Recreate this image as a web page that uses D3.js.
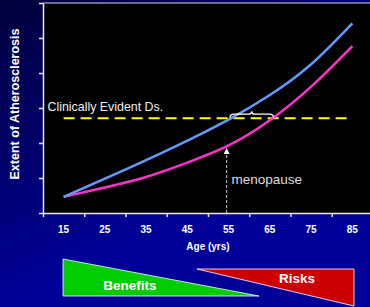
<!DOCTYPE html>
<html>
<head>
<meta charset="utf-8">
<script src="https://cdn.jsdelivr.net/npm/d3@7"></script>
<style>
  html, body { margin: 0; padding: 0; background: #000099; overflow: hidden; }
  text { font-family: "Liberation Sans", Arial, sans-serif; }
</style>
</head>
<body>
<div id="chart"></div>
<script>
// Extent of atherosclerosis by age - men vs women

const ages = [15, 25, 35, 45, 55, 65, 75, 85];
const menValues = [0.46, 0.98, 1.51, 2.07, 2.67, 3.37, 4.25, 5.42];
const womenValues = [0.46, 0.73, 1.03, 1.44, 1.93, 2.65, 3.61, 4.77];
const ageTickLabels = ["15", "25", "35", "45", "55", "65", "75", "85"];
const ageBoundaries = [10, 20, 30, 40, 50, 60, 70, 80];
const yTicks = [0, 1, 2, 3, 4, 5, 6];
const clinicalThreshold = 2.71;
const menopauseAge = 55;

const W = 370, H = 307;
const margin = { top: 3, right: -3, bottom: 94, left: 43 };

const svg = d3.select("#chart")
  .append("svg")
  .attr("width", W)
  .attr("height", H);

// background gradient
const defs = svg.append("defs");
const grad = defs.append("linearGradient")
  .attr("id", "bg")
  .attr("x1", "0").attr("y1", "0")
  .attr("x2", "0.45").attr("y2", "0.75");
grad.append("stop").attr("offset", "0").attr("stop-color", "#00003a");
grad.append("stop").attr("offset", "1").attr("stop-color", "#000099");
svg.append("rect").attr("width", W).attr("height", H).attr("fill", "url(#bg)");

const x = d3.scaleLinear().domain([10, 90]).range([margin.left, W - margin.right]);
const y = d3.scaleLinear().domain([0, 6]).range([H - margin.bottom, margin.top]);

// plot area
svg.append("rect")
  .attr("x", x(10)).attr("y", y(6))
  .attr("width", x(90) - x(10)).attr("height", y(0) - y(6))
  .attr("fill", "#000");

svg.append("line")
  .attr("x1", x(10)).attr("x2", x(90))
  .attr("y1", y(6)).attr("y2", y(6))
  .attr("stroke", "#d8d8e8").attr("stroke-width", 1.2);

// axes
const yAxis = d3.axisLeft(y).tickValues(yTicks).tickSize(4).tickSizeOuter(0).tickFormat("");
const xAxis = d3.axisBottom(x).tickValues(ageBoundaries).tickSize(4).tickSizeOuter(0).tickFormat("");

const gy = svg.append("g").attr("transform", `translate(${x(10)},0)`).call(yAxis);
const gx = svg.append("g").attr("transform", `translate(0,${y(0)})`).call(xAxis);
[gy, gx].forEach(g => {
  g.selectAll("path, line").attr("stroke", "#e8e8e8").attr("stroke-width", 1.5);
});

svg.selectAll(".age-label")
  .data(ageTickLabels)
  .enter()
  .append("text")
  .attr("class", "age-label")
  .attr("x", d => x(+d))
  .attr("y", 233)
  .attr("text-anchor", "middle")
  .attr("font-size", "10px")
  .attr("font-weight", "bold")
  .attr("fill", "#fff")
  .text(d => d);

svg.append("text")
  .attr("x", (x(10) + x(90)) / 2)
  .attr("y", 250)
  .attr("text-anchor", "middle")
  .attr("font-size", "10px")
  .attr("font-weight", "bold")
  .attr("fill", "#fff")
  .text("Age (yrs)");

svg.append("text")
  .attr("transform", "translate(19,104) rotate(-90)")
  .attr("text-anchor", "middle")
  .attr("font-size", "12.5px")
  .attr("font-weight", "bold")
  .attr("fill", "#fff")
  .text("Extent of Atherosclerosis");

// clinical threshold
svg.append("line")
  .attr("x1", x(15)).attr("x2", x(85))
  .attr("y1", y(clinicalThreshold)).attr("y2", y(clinicalThreshold))
  .attr("stroke", "#ffff00").attr("stroke-width", 2)
  .attr("stroke-dasharray", "11,6");

svg.append("text")
  .attr("x", 47.5)
  .attr("y", 111)
  .attr("font-size", "12.4px")
  .attr("fill", "#eee")
  .text("Clinically Evident Ds.");

// curves
const line = d3.line()
  .x(d => x(d[0]))
  .y(d => y(d[1]))
  .curve(d3.curveNatural);

const men = ages.map((a, i) => [a, menValues[i]]);
const women = ages.map((a, i) => [a, womenValues[i]]);

svg.append("path").datum(women)
  .attr("d", line).attr("fill", "none")
  .attr("stroke", "#ff33cc").attr("stroke-width", 2.5);

svg.append("path").datum(men)
  .attr("d", line).attr("fill", "none")
  .attr("stroke", "#6699ff").attr("stroke-width", 2.5);

// where a series crosses the threshold (linear between points)
function crossing(vals) {
  for (let i = 1; i < vals.length; i++) {
    if (vals[i] >= clinicalThreshold) {
      const t = (clinicalThreshold - vals[i - 1]) / (vals[i] - vals[i - 1]);
      return ages[i - 1] + t * (ages[i] - ages[i - 1]);
    }
  }
  return ages[ages.length - 1];
}

const x1 = x(crossing(menValues)) - 1, x2 = x(crossing(womenValues)) + 1;
const yT = y(clinicalThreshold) - 0.5, mid = (x1 + x2) / 2;
svg.append("path")
  .attr("d", `M${x1},${yT} Q${x1},${yT - 3.5} ${x1 + 4},${yT - 3.5} L${mid - 3},${yT - 3.5}
              Q${mid},${yT - 3.5} ${mid},${yT - 6.5} Q${mid},${yT - 3.5} ${mid + 3},${yT - 3.5}
              L${x2 - 4},${yT - 3.5} Q${x2},${yT - 3.5} ${x2},${yT}`)
  .attr("fill", "none").attr("stroke", "#fff").attr("stroke-width", 1.2);

// menopause marker
const mx = x(menopauseAge) - 2;
const tipY = y(womenValues[ages.indexOf(menopauseAge)]) + 2.5;
svg.append("line")
  .attr("x1", mx).attr("x2", mx)
  .attr("y1", y(0)).attr("y2", tipY + 5)
  .attr("stroke", "#ccc").attr("stroke-width", 1)
  .attr("stroke-dasharray", "3,2");
svg.append("path")
  .attr("d", `M${mx},${tipY} L${mx - 3},${tipY + 6} L${mx + 3},${tipY + 6} Z`)
  .attr("fill", "#fff");

svg.append("text")
  .attr("x", 231.5)
  .attr("y", 184)
  .attr("font-size", "13.5px")
  .attr("fill", "#ddd")
  .text("menopause");

// benefits / risks wedges
svg.append("path")
  .attr("d", "M63,259 L63,296 L259,296 Z")
  .attr("fill", "#00cc00").attr("stroke", "#fff").attr("stroke-width", 0.8);
svg.append("path")
  .attr("d", "M197,269 L354,269 L354,306 Z")
  .attr("fill", "#cc0000").attr("stroke", "#fff").attr("stroke-width", 0.8);

svg.append("text")
  .attr("x", 130).attr("y", 290)
  .attr("text-anchor", "middle")
  .attr("font-size", "13.5px").attr("font-weight", "bold")
  .attr("fill", "#fff")
  .text("Benefits");

svg.append("text")
  .attr("x", 297).attr("y", 283)
  .attr("text-anchor", "middle")
  .attr("font-size", "13.5px").attr("font-weight", "bold")
  .attr("fill", "#fff")
  .text("Risks");
</script>
</body>
</html>
